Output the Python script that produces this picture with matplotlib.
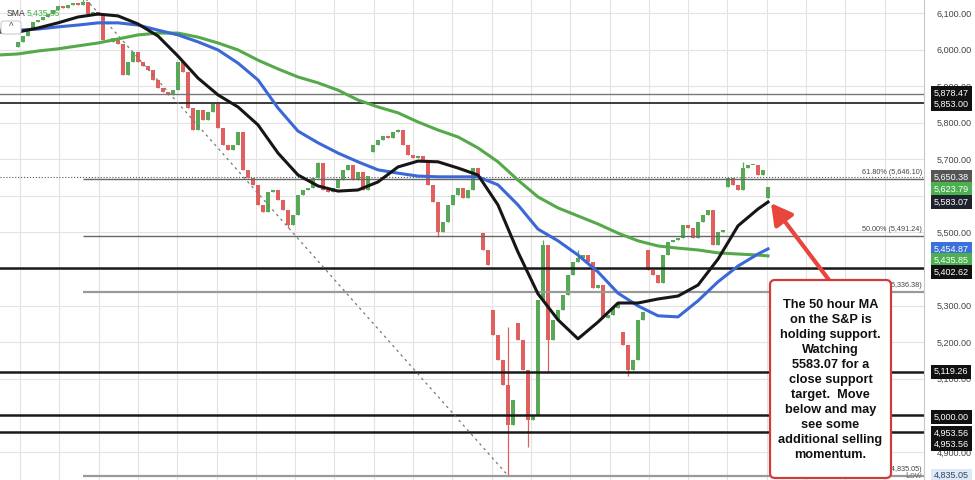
import numpy as np
import matplotlib.pyplot as plt
from matplotlib.patches import FancyBboxPatch
from matplotlib.transforms import IdentityTransform, blended_transform_factory

plt.rcParams['font.family'] = ['Liberation Sans', 'DejaVu Sans']

# hourly closes
closes = [6021, 6037, 6054, 6075, 6081, 6089, 6097, 6108, 6119, 6114,
          6122, 6127, 6122, 6130, 6097, 6103, 6094, 6026, 6021, 6032,
          6015, 5930, 5966, 5993, 5966, 5955, 5944, 5917, 5895, 5884,
          5876, 5889, 5966, 5939, 5840, 5780, 5835, 5807, 5829, 5851,
          5786, 5739, 5725, 5739, 5775, 5671, 5649, 5630, 5575, 5556,
          5611, 5616, 5589, 5561, 5520, 5548, 5602, 5616, 5621, 5649,
          5690, 5616, 5611, 5621, 5643, 5671, 5684, 5643, 5665, 5616,
          5654, 5739, 5753, 5764, 5758, 5775, 5780, 5739, 5712, 5704,
          5709, 5698, 5630, 5583, 5501, 5529, 5575, 5602, 5621, 5594,
          5616, 5676, 5649, 5452, 5411, 5220, 5151, 5083, 4974, 5042,
          5206, 5124, 4987, 5001, 5315, 5466, 5206, 5261, 5288, 5329,
          5384, 5419, 5430, 5438, 5419, 5348, 5356, 5266, 5274, 5293,
          5307, 5192, 5124, 5151, 5261, 5282, 5397, 5384, 5362, 5438,
          5474, 5479, 5485, 5520, 5512, 5485, 5529, 5548, 5561, 5466,
          5501, 5507, 5648, 5630, 5616, 5676, 5684, 5684, 5657, 5671,
          5623.79]
# opens differ from previous close only on gaps
gap_opens = {0: 6008, 71: 5720, 93: 5498, 95: 5288, 100: 5252, 121: 5228,
             126: 5452, 142: 5624, 150: 5594}
wick_highs = {13: 6150, 39: 5854, 60: 5693, 76: 5783, 98: 5241, 105: 5479,
              112: 5452, 145: 5693}
wick_lows = {54: 5512, 84: 5488, 98: 4835.05, 102: 4913, 106: 5118, 122: 5107}

# moving averages sampled along the bars
ma_idx = list(range(-4, 149, 4)) + [150]
sma50 = [6048, 6048, 6059, 6073, 6089, 6097, 6092, 6070, 6037, 5982,
         5922, 5876, 5843, 5794, 5717, 5657, 5627, 5613, 5616, 5638,
         5679, 5695, 5693, 5676, 5657, 5575, 5446, 5332, 5261, 5209,
         5255, 5307, 5307, 5318, 5326, 5356, 5427, 5518, 5564, 5583.07]
sma100 = [6053, 6053, 6056, 6062, 6067, 6073, 6073, 6067, 6053, 6040,
          6021, 5999, 5963, 5917, 5840, 5777, 5745, 5717, 5693, 5671,
          5662, 5654, 5652, 5652, 5652, 5630, 5575, 5509, 5477, 5438,
          5392, 5334, 5299, 5272, 5269, 5313, 5365, 5408, 5441, 5454.87]
sma200 = [5985, 5988, 5996, 6002, 6010, 6018, 6029, 6040, 6045, 6045,
          6034, 6018, 5999, 5971, 5947, 5925, 5909, 5889, 5862, 5843,
          5827, 5802, 5780, 5761, 5731, 5693, 5643, 5597, 5567, 5545,
          5523, 5498, 5477, 5463, 5457, 5452, 5444, 5441, 5438, 5435.85]

black_levels = [5853.00, 5402.62, 5119.26, 5000.00, 4953.56]
grey_level = 5878.47
last_close_line = 5650.38
fib_prices = [5646.10, 5491.24, 5336.38, 4835.05]
fib_names = ['61.80%', '50.00%', '38.20%', '0.00%']
fib_start = 13
trend_x = [13, 98]
trend_y = [6147, 4835.05]

axis_ticks = [4900, 5000, 5100, 5200, 5300, 5400, 5500, 5600, 5700, 5800, 5900, 6000, 6100]
hidden_ticks = [5000, 5400, 5600]

label_prices = [5878.47, 5853.00, 5650.38, 5623.79, 5583.07, 5454.87,
                5435.85, 5402.62, 5119.26, 5000.00, 4953.56, 4953.56]
label_colors = ['#111111', '#111111', '#555555', '#4caf50', '#1e222d', '#3b6fd9',
                '#4caf50', '#111111', '#111111', '#111111', '#111111', '#111111']
label_nudge = [1, -1, 0, -2, 0, 0, -4, -4, 0, -2, -1, -12]

note = ("The 50 hour MA\non the S&P is\nholding support.\nWatching\n"
        "5583.07 for a\nclose support\ntarget.  Move\nbelow and may\n"
        "see some\nadditional selling\nmomentum.")

fig = plt.figure(figsize=(9.75, 4.8), dpi=100)
ax = fig.add_axes([0, 0, 924 / 975, 1])
ax.set_xlim(-3.6, 181.2)
ax.set_ylim(4823, 6135.5)

# grid
ax.set_xticks(np.arange(0.4, 181, 7.86))
ax.set_yticks(axis_ticks)
ax.set_yticklabels(['' if v in hidden_ticks else f'{v:,.2f}' for v in axis_ticks])
ax.grid(True, color='#e3e3e3', lw=0.8)
ax.set_axisbelow(True)
ax.yaxis.tick_right()
ax.tick_params(axis='x', length=0, labelbottom=False)
ax.tick_params(axis='y', length=0, pad=9, labelsize=6.5, labelcolor='#444444')
for s in ['top', 'left', 'bottom']:
    ax.spines[s].set_visible(False)
ax.spines['right'].set_color('#c8c8c8')

# candles
c = np.array(closes, dtype=float)
o = np.r_[c[0], c[:-1]]
for k, v in gap_opens.items():
    o[k] = v
hi = np.maximum(o, c)
lo = np.minimum(o, c)
for k, v in wick_highs.items():
    hi[k] = v
for k, v in wick_lows.items():
    lo[k] = v
idx = np.arange(len(c))
cols = np.where(c >= o, '#57a957', '#e05f5f')
ax.vlines(idx, lo, hi, colors=cols, lw=0.9, zorder=2)
ax.bar(idx, np.maximum(np.abs(c - o), 3), bottom=np.minimum(o, c), width=0.72,
       color=cols, linewidth=0, zorder=2)

# levels
ax.axhline(last_close_line, color='#555555', lw=0.8, ls=':', zorder=1.5)
ax.axhline(grey_level, color='#777777', lw=1.0, zorder=2.5)
for i, lv in enumerate(black_levels):
    ax.axhline(lv, color='#1a1a1a', lw=1.2 if i == 0 else 1.8, zorder=2.5)
bt = blended_transform_factory(ax.transAxes, ax.transData)
for i, (fp, nm) in enumerate(zip(fib_prices, fib_names)):
    ax.hlines(fp, fib_start, 181.2, color='#666666' if i < 2 else '#9a9a9a',
              lw=1.0 if i < 2 else 1.6, zorder=2.5)
    ax.annotate(f'{nm} ({fp:,.2f})', xy=(1, fp), xycoords=bt,
                xytext=(-2, 3), textcoords='offset pixels', ha='right', va='bottom',
                fontsize=5.2, color='#444444', zorder=3)
ax.plot(trend_x, trend_y, color='#777777', lw=0.9, ls=(0, (2, 3)), zorder=2.6)

# moving averages
ax.plot(ma_idx, sma200, color='#56a94a', lw=2.2, zorder=4)
ax.plot(ma_idx, sma100, color='#3b68d6', lw=2.2, zorder=4)
ax.plot(ma_idx, sma50, color='#161616', lw=2.2, zorder=4)

# right side price labels
for p, col, dy in zip(label_prices, label_colors, label_nudge):
    ax.annotate(f'{p:,.2f}', xy=(1, p), xycoords=bt, xytext=(10, dy),
                textcoords='offset pixels', ha='left', va='center', fontsize=6.5,
                color='white', annotation_clip=False, zorder=10,
                bbox=dict(boxstyle='square,pad=0.28', fc=col, ec='none'))
ax.annotate('4,835.05', xy=(1, 4835.05), xycoords=bt, xytext=(10, 0),
            textcoords='offset pixels', ha='left', va='center', fontsize=6.5,
            color='#334466', annotation_clip=False, zorder=10,
            bbox=dict(boxstyle='square,pad=0.28', fc='#dce8f6', ec='none'))
ax.annotate('Low', xy=(1, 4835.05), xycoords=bt, xytext=(-2, 0),
            textcoords='offset pixels', ha='right', va='center', fontsize=6.5,
            color='#777777', zorder=10)

# legend bits top-left
fig.text(7 / 975, 1 - 13 / 480, 'SMA', fontsize=6.2, color='#333333', va='center')
fig.text(27 / 975, 1 - 13 / 480, '5,435.85', fontsize=6.2, color='#4caf50', va='center')
btn = FancyBboxPatch((1, 480 - 34), 20, 13, boxstyle='round,pad=0,rounding_size=3',
                     transform=IdentityTransform(), fc='white', ec='#cccccc', lw=0.8,
                     zorder=11)
fig.add_artist(btn)
fig.text(11 / 975, 1 - 27 / 480, '^', fontsize=7, color='#555555', ha='center',
         va='center', zorder=12)

# note box + arrow
box = FancyBboxPatch((770, 2), 121, 198, boxstyle='round,pad=0,rounding_size=5',
                     transform=IdentityTransform(), fc='white', ec='#d23b3b', lw=1.6,
                     zorder=20)
fig.add_artist(box)
fig.text(830.5, 100, note, transform=IdentityTransform(), ha='center', va='center',
         fontsize=9.2, fontweight='bold', color='#111111', linespacing=1.34,
         zorder=21)
ax.annotate('', xy=(150.6, 5580), xycoords='data', xytext=(829, 200),
            textcoords='figure pixels',
            arrowprops=dict(arrowstyle='-|>,head_length=0.9,head_width=0.5',
                            color='#e8453c', lw=3, shrinkA=0, shrinkB=0,
                            mutation_scale=14),
            annotation_clip=False, zorder=22)

fig.savefig('out.png', dpi=100)
